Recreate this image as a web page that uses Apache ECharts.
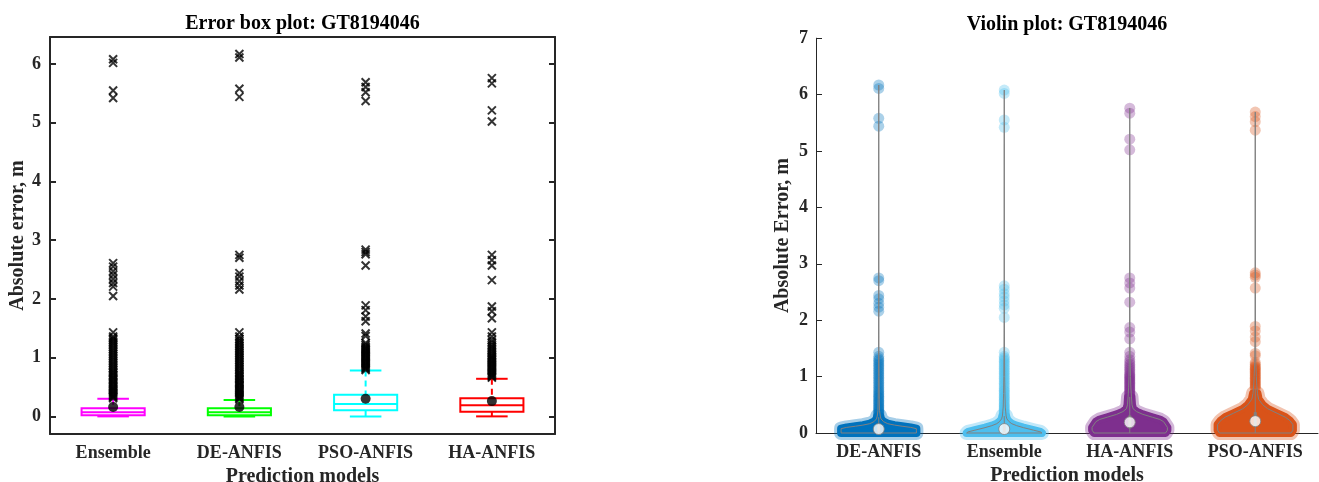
<!DOCTYPE html>
<html><head><meta charset="utf-8">
<script src="https://cdn.jsdelivr.net/npm/echarts@6/dist/echarts.min.js"></script>
<style>html,body{margin:0;padding:0;background:#fff}#c{width:1319px;height:482px}</style>
</head><body><div id="c"></div>
<script>
// ===== Shared error statistics =====
const boxCategories = ['Ensemble', 'DE-ANFIS', 'PSO-ANFIS', 'HA-ANFIS'];
const boxColors = ['#ff00ff', '#00ff00', '#00ffff', '#ff0000'];
const whiskerLow  = [0, 0, 0, 0];
const q1          = [0.02, 0.02, 0.105, 0.08];
const median      = [0.07, 0.07, 0.21, 0.19];
const q3          = [0.14, 0.14, 0.37, 0.31];
const whiskerHigh = [0.30, 0.28, 0.78, 0.64];
const means       = [0.16, 0.16, 0.30, 0.26];

// outliers (absolute error, m)
const outEnsemble = [0.31,0.33,0.34,0.36,0.38,0.40,0.42,0.44,0.46,0.48,0.50,0.52,0.55,0.57,0.59,0.62,0.64,0.66,0.69,0.71,0.74,0.76,0.79,0.82,0.85,0.88,0.91,0.94,0.97,1.00,1.03,1.06,1.09,1.12,1.15,1.18,1.21,1.24,1.27,1.30,1.33,1.36,1.43,2.05,2.21,2.27,2.34,2.41,2.47,2.55,2.61,5.42,5.55,6.02,6.08];
const outDE = [0.29,0.31,0.33,0.35,0.37,0.39,0.41,0.43,0.45,0.47,0.49,0.52,0.54,0.56,0.58,0.61,0.63,0.65,0.68,0.70,0.73,0.75,0.78,0.81,0.84,0.87,0.90,0.93,0.96,0.99,1.02,1.05,1.08,1.11,1.14,1.17,1.20,1.23,1.26,1.29,1.32,1.36,1.43,2.16,2.23,2.30,2.38,2.44,2.70,2.75,5.44,5.58,6.11,6.17];
const outPSO = [0.79,0.81,0.83,0.85,0.87,0.89,0.91,0.93,0.95,0.97,0.99,1.01,1.03,1.05,1.07,1.09,1.11,1.13,1.15,1.17,1.19,1.22,1.25,1.37,1.41,1.62,1.70,1.81,1.89,2.57,2.76,2.80,2.84,5.37,5.52,5.61,5.69];
const outHA = [0.66,0.68,0.70,0.72,0.74,0.76,0.78,0.80,0.82,0.84,0.86,0.88,0.90,0.92,0.94,0.96,0.98,1.00,1.02,1.04,1.07,1.10,1.13,1.16,1.19,1.22,1.26,1.30,1.36,1.43,1.67,1.79,1.87,2.32,2.57,2.66,2.75,5.02,5.21,5.67,5.76];
const outliers = [outEnsemble, outDE, outPSO, outHA];

const boxYTicks = [0, 1, 2, 3, 4, 5, 6];

// ===== Violin plot =====
const violinCategories = ['DE-ANFIS', 'Ensemble', 'HA-ANFIS', 'PSO-ANFIS'];
const violinColors = ['#0072BD', '#4DBEEE', '#7E2F8E', '#D95319'];
// density profile: levels (m) and relative half-widths (1 = full violin width)
const deLevels  = [0, 0.04, 0.077, 0.10, 0.12, 0.14, 0.165, 0.2, 0.25, 0.3, 0.4, 0.6, 0.8, 1.0, 1.4, 2.2, 2.7, 5.5, 6.17];
const deWidths  = [1.0, 1.0, 1.0, 0.85, 0.62, 0.42, 0.24, 0.13, 0.06, 0.04, 0.02, 0.015, 0.012, 0.01, 0.006, 0.004, 0.004, 0.003, 0];
const ensLevels = [0, 0.02, 0.05, 0.095, 0.13, 0.165, 0.2, 0.25, 0.3, 0.46, 0.7, 1.0, 1.4, 2.0, 2.6, 5.5, 6.08];
const ensWidths = [1.0, 0.96, 0.78, 0.51, 0.33, 0.2, 0.13, 0.07, 0.05, 0.027, 0.018, 0.012, 0.008, 0.005, 0.004, 0.003, 0];
const haLevels  = [0, 0.05, 0.1, 0.2, 0.24, 0.28, 0.33, 0.38, 0.43, 0.5, 0.64, 0.8, 1.0, 1.4, 1.9, 2.75, 5.0, 5.76];
const haWidths  = [0.95, 1.0, 1.0, 0.9, 0.8, 0.6, 0.35, 0.18, 0.09, 0.06, 0.045, 0.03, 0.02, 0.01, 0.006, 0.004, 0.003, 0];
const psoLevels = [0, 0.05, 0.15, 0.22, 0.28, 0.35, 0.43, 0.5, 0.6, 0.7, 0.85, 1.0, 1.25, 1.9, 2.85, 5.3, 5.69];
const psoWidths = [0.95, 1.0, 1.0, 0.92, 0.8, 0.58, 0.33, 0.2, 0.09, 0.06, 0.04, 0.03, 0.015, 0.006, 0.004, 0.003, 0];
const violinDenseTop = [0.30, 0.34, 0.66, 0.80];
const violinYTicks = [0, 7, 1];

// ===== build =====
const FONT = 'Liberation Serif';
const TXT = '#262626';
const violinProfiles = [[deLevels, deWidths], [ensLevels, ensWidths], [haLevels, haWidths], [psoLevels, psoWidths]];
const vStatIdx = violinCategories.map(n => boxCategories.indexOf(n));

const boxData = boxCategories.map((c, i) => [i, whiskerLow[i], q1[i], median[i], q3[i], whiskerHigh[i]]);
const meanData = boxCategories.map((c, i) => [i, means[i]]);
const outData = [];
outliers.forEach((arr, i) => arr.forEach(v => outData.push([i, v])));

const vPoints = [];
violinCategories.forEach((n, vi) => {
  outliers[vStatIdx[vi]].forEach(v => vPoints.push({value: [vi, v], itemStyle: {color: violinColors[vi]}}));
});
const vIdxData = violinCategories.map((n, i) => [i, 0]);
const vMedData = violinCategories.map((n, i) => [i, median[vStatIdx[i]]]);

function violinPolygon(api, cat, levels, widths, top) {
  const half = api.size([1, 0])[0] * 0.3;
  const cx = api.coord([cat, 0])[0];
  const L = [], R = [];
  for (let i = 0; i < levels.length; i++) {
    if (levels[i] > top) break;
    const y = api.coord([cat, levels[i]])[1];
    L.push([cx - widths[i] * half, y]);
    R.push([cx + widths[i] * half, y]);
  }
  return L.concat(R.reverse());
}

const axisLbl = {fontFamily: FONT, fontWeight: 'bold', fontSize: 18, color: TXT};
const nameStyle = {fontFamily: FONT, fontWeight: 'bold', fontSize: 20, color: TXT};
const frameLine = {show: true, onZero: false, lineStyle: {color: TXT, width: 2}};

const option = {
  animation: false,
  graphic: [
    {type: 'text', x: 302.5, y: 24, style: {text: 'Error box plot: GT8194046', font: 'bold 20px "Liberation Serif"', fill: '#000', align: 'center', verticalAlign: 'middle'}},
    {type: 'text', x: 1067, y: 25, style: {text: 'Violin plot: GT8194046', font: 'bold 20px "Liberation Serif"', fill: '#000', align: 'center', verticalAlign: 'middle'}}
  ],
  grid: [
    {left: 50, right: 764, top: 37, bottom: 48, containLabel: false, outerBoundsMode: 'none'},
    {left: 816, right: 1, top: 38.2, bottom: 49, containLabel: false, outerBoundsMode: 'none'}
  ],
  xAxis: [
    {type: 'category', gridIndex: 0, data: boxCategories, position: 'bottom',
     axisLine: frameLine, axisTick: {inside: true, alignWithLabel: true, length: 6, lineStyle: {width: 2, color: TXT}},
     axisLabel: Object.assign({margin: 10, interval: 0}, axisLbl),
     name: 'Prediction models', nameLocation: 'middle', nameGap: 29, nameTextStyle: nameStyle},
    {type: 'category', gridIndex: 0, data: boxCategories, position: 'top',
     axisLine: frameLine, axisTick: {inside: true, alignWithLabel: true, length: 6, lineStyle: {width: 2, color: TXT}},
     axisLabel: {show: false}},
    {type: 'category', gridIndex: 1, data: violinCategories,
     axisLine: {show: true, onZero: false, lineStyle: {color: TXT, width: 1}}, axisTick: {show: false},
     axisLabel: Object.assign({margin: 10, interval: 0}, axisLbl),
     name: 'Prediction models', nameLocation: 'middle', nameGap: 30, nameTextStyle: nameStyle}
  ],
  yAxis: [
    {type: 'value', gridIndex: 0, min: -0.3, max: 6.46, position: 'left',
     axisLine: frameLine, splitLine: {show: false},
     axisTick: {show: true, inside: true, length: 6, customValues: boxYTicks, lineStyle: {width: 2, color: TXT}},
     axisLabel: Object.assign({margin: 9, customValues: boxYTicks}, axisLbl),
     name: 'Absolute error, m', nameLocation: 'middle', nameGap: 21, nameRotate: 90, nameTextStyle: nameStyle},
    {type: 'value', gridIndex: 0, min: -0.3, max: 6.46, position: 'right',
     axisLine: frameLine, splitLine: {show: false},
     axisTick: {show: true, inside: true, length: 6, customValues: boxYTicks, lineStyle: {width: 2, color: TXT}},
     axisLabel: {show: false}},
    {type: 'value', gridIndex: 1, min: violinYTicks[0], max: violinYTicks[1], interval: violinYTicks[2],
     axisLine: {show: true, onZero: false, lineStyle: {color: TXT, width: 1}}, splitLine: {show: false},
     axisTick: {show: true, inside: true, length: 6, lineStyle: {color: TXT, width: 1}},
     axisLabel: Object.assign({margin: 8}, axisLbl),
     name: 'Absolute Error, m', nameLocation: 'middle', nameGap: 23, nameRotate: 90, nameTextStyle: nameStyle}
  ],
  series: [
    // ---- box plot ----
    {type: 'custom', xAxisIndex: 0, yAxisIndex: 0, data: boxData, z: 2,
     encode: {x: 0, y: [1, 2, 3, 4, 5]},
     renderItem: function (params, api) {
       const i = api.value(0);
       const col = boxColors[params.dataIndex];
       const bw = api.size([1, 0])[0] * 0.5;
       const cx = api.coord([i, 0])[0];
       const yLo = api.coord([i, api.value(1)])[1];
       const yQ1 = api.coord([i, api.value(2)])[1];
       const yMd = api.coord([i, api.value(3)])[1];
       const yQ3 = api.coord([i, api.value(4)])[1];
       const yHi = api.coord([i, api.value(5)])[1];
       const st = {stroke: col, lineWidth: 2, fill: 'none'};
       const dash = {stroke: col, lineWidth: 2, lineDash: [6, 4]};
       return {type: 'group', children: [
         {type: 'line', shape: {x1: cx, y1: yHi, x2: cx, y2: yQ3}, style: dash},
         {type: 'line', shape: {x1: cx, y1: yLo, x2: cx, y2: yQ1}, style: dash},
         {type: 'line', shape: {x1: cx - bw / 4, y1: yHi, x2: cx + bw / 4, y2: yHi}, style: st},
         {type: 'line', shape: {x1: cx - bw / 4, y1: yLo, x2: cx + bw / 4, y2: yLo}, style: st},
         {type: 'rect', shape: {x: cx - bw / 2, y: yQ3, width: bw, height: yQ1 - yQ3}, style: st},
         {type: 'line', shape: {x1: cx - bw / 2, y1: yMd, x2: cx + bw / 2, y2: yMd}, style: st}
       ]};
     }},
    {type: 'scatter', xAxisIndex: 0, yAxisIndex: 0, data: outData, z: 3,
     symbol: 'path://M0,0L8,8M8,0L0,8', symbolSize: 8,
     itemStyle: {color: 'rgba(0,0,0,0)', borderColor: '#000', borderWidth: 2}},
    {type: 'scatter', xAxisIndex: 0, yAxisIndex: 0, data: meanData, z: 4,
     symbol: 'circle', symbolSize: 10, itemStyle: {color: '#000'}},
    // ---- violin plot ----
    {type: 'custom', xAxisIndex: 2, yAxisIndex: 2, data: vIdxData, z: 2,
     renderItem: function (params, api) {
       const vi = params.dataIndex;
       const pr = violinProfiles[vi];
       const pts = violinPolygon(api, vi, pr[0], pr[1], violinDenseTop[vi]);
       return {type: 'group', children: [
         {type: 'polygon', shape: {points: pts},
          style: {fill: violinColors[vi], stroke: violinColors[vi], lineWidth: 14, lineJoin: 'round', opacity: 0.35}},
         {type: 'polygon', shape: {points: pts},
          style: {fill: violinColors[vi], stroke: violinColors[vi], lineWidth: 8, lineJoin: 'round'}}
       ]};
     }},
    {type: 'scatter', xAxisIndex: 2, yAxisIndex: 2, data: vPoints, z: 3,
     symbol: 'circle', symbolSize: 11, itemStyle: {opacity: 0.33}},
    {type: 'custom', xAxisIndex: 2, yAxisIndex: 2, data: vIdxData, z: 4,
     renderItem: function (params, api) {
       const vi = params.dataIndex;
       const pr = violinProfiles[vi];
       const pts = violinPolygon(api, vi, pr[0], pr[1], Infinity);
       const si = vStatIdx[vi];
       const cx = api.coord([vi, 0])[0];
       const yLo = api.coord([vi, whiskerLow[si]])[1];
       const yHi = api.coord([vi, whiskerHigh[si]])[1];
       const yQ1 = api.coord([vi, q1[si]])[1];
       const yQ3 = api.coord([vi, q3[si]])[1];
       return {type: 'group', children: [
         {type: 'polygon', shape: {points: pts}, style: {fill: 'none', stroke: '#808080', lineWidth: 1}},
         {type: 'line', shape: {x1: cx, y1: yLo, x2: cx, y2: yHi}, style: {stroke: '#808080', lineWidth: 1}},
         {type: 'rect', shape: {x: cx - 1.5, y: yQ3, width: 3, height: yQ1 - yQ3}, style: {fill: '#808080'}}
       ]};
     }},
    {type: 'scatter', xAxisIndex: 2, yAxisIndex: 2, data: vMedData, z: 5,
     symbol: 'circle', symbolSize: 11,
     itemStyle: {color: '#ffffff', borderColor: '#808080', borderWidth: 1}}
  ]
};
const chart = echarts.init(document.getElementById('c'), null, {renderer: 'canvas'});
chart.setOption(option);
</script>
</body></html>
